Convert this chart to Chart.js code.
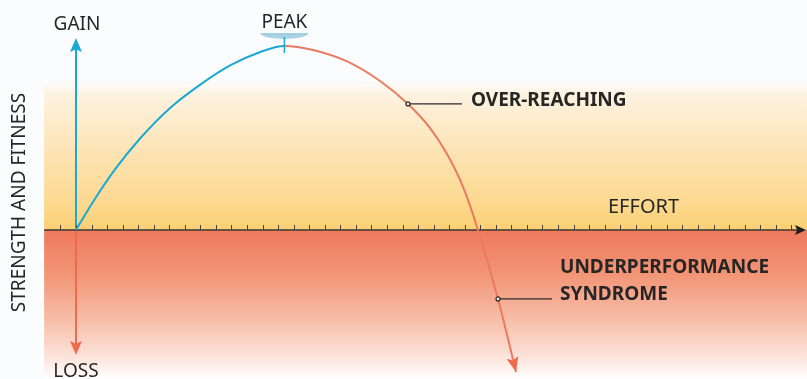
<!DOCTYPE html>
<html>
<head>
<meta charset="utf-8">
<script src="https://cdn.jsdelivr.net/npm/chart.js@4"></script>
<style>
  html, body { margin: 0; padding: 0; background: #fbfcfe; }
  #wrap { width: 807px; height: 379px; position: relative; }
</style>
</head>
<body>
<div id="wrap"><canvas id="chart"></canvas></div>
<script>
// Curve: effort (tick units) and strength/fitness (peak = 100)
const effortValues = [0, 1.09, 2.51, 4.12, 6.05, 8.04, 9.97, 11.77, 13.4,
    15.24, 17.43, 19.55, 21.35, 22.77, 23.86, 24.89, 25.85, 27.14, 28.3];
const fitnessValues = [0, 15.2, 32.9, 49.7, 66.3, 79.3, 89.7, 96.5, 100,
    97.8, 91.6, 81.0, 68.5, 55.4, 41.3, 23.4, 0, -37.5, -77.2];

// axis extents
const effortRange = [-4.887, 47.01];
const fitnessRange = [-81, 125];
const bandStart = -2.05;
const tickRange = [-1, 46];
const gainTop = 104.3;
const lossBottom = -67.9;

// labelled points on the curve
const overReaching = { x: 21.35, y: 68.5 };
const underPerf = { x: 27.14, y: -37.5 };
const peak = { x: 13.4, y: 100 };

const BLUE = '#1aa8d6';
const RED = '#ea7a5f';
const TEXT = '#262626';
const FONT = '"Noto Sans", sans-serif';

const toPoints = (xs, ys) => xs.map((x, i) => ({ x, y: ys[i] }));

function arrowHead(ctx, tipX, tipY, angle, len, half, color) {
    ctx.save();
    ctx.translate(tipX, tipY);
    ctx.rotate(angle);
    ctx.beginPath();
    ctx.moveTo(0, 0);
    ctx.lineTo(-len, -half);
    ctx.lineTo(-len * 0.8, 0);
    ctx.lineTo(-len, half);
    ctx.closePath();
    ctx.fillStyle = color;
    ctx.fill();
    ctx.restore();
}

const decorations = {
    id: 'decorations',
    beforeDatasetsDraw(chart) {
        const { ctx, chartArea, scales: { x, y } } = chart;
        const x0 = x.getPixelForValue(0);
        const y0 = y.getPixelForValue(0);
        const left = x.getPixelForValue(bandStart);

        ctx.save();
        // upper band
        let g = ctx.createLinearGradient(0, chartArea.top, 0, y0);
        g.addColorStop(0, 'rgba(255,255,255,0)');
        g.addColorStop(0.33, 'rgba(255,255,255,0)');
        g.addColorStop(0.4, '#fdf3e2');
        g.addColorStop(0.65, '#fde4b6');
        g.addColorStop(0.9, '#fcd88c');
        g.addColorStop(1, '#fbcf72');
        ctx.fillStyle = g;
        ctx.fillRect(left, chartArea.top, chartArea.right - left, y0 - chartArea.top);

        // lower band
        g = ctx.createLinearGradient(0, y0, 0, chartArea.bottom);
        g.addColorStop(0, '#ef795d');
        g.addColorStop(0.3, '#f29576');
        g.addColorStop(0.65, '#f8c4b0');
        g.addColorStop(0.9, '#fdebe5');
        g.addColorStop(1, '#ffffff');
        ctx.fillStyle = g;
        ctx.fillRect(left, y0, chartArea.right - left, chartArea.bottom - y0);

        // vertical axis: gain (up) and loss (down)
        const yTop = y.getPixelForValue(gainTop);
        const yBot = y.getPixelForValue(lossBottom);
        ctx.lineWidth = 2;
        ctx.strokeStyle = BLUE;
        ctx.beginPath();
        ctx.moveTo(x0, y0);
        ctx.lineTo(x0, yTop + 8);
        ctx.stroke();
        arrowHead(ctx, x0, yTop, -Math.PI / 2, 14, 6, BLUE);

        ctx.strokeStyle = '#ee6c4e';
        ctx.beginPath();
        ctx.moveTo(x0, y0);
        ctx.lineTo(x0, yBot - 8);
        ctx.stroke();
        arrowHead(ctx, x0, yBot, Math.PI / 2, 14, 6, '#ee6c4e');

        // effort axis with ticks
        const tipX = x.getPixelForValue(effortRange[1]) - 1;
        ctx.strokeStyle = '#3a3632';
        ctx.lineWidth = 1.5;
        ctx.beginPath();
        ctx.moveTo(left, y0);
        ctx.lineTo(tipX - 6, y0);
        ctx.stroke();
        arrowHead(ctx, tipX, y0, 0, 11, 5, '#1e1e1e');

        ctx.lineWidth = 1;
        ctx.strokeStyle = '#4a4038';
        x.ticks.forEach(t => {
            if (!Number.isInteger(t.value) || t.value < tickRange[0] || t.value > tickRange[1]) return;
            const px = Math.round(x.getPixelForValue(t.value)) + 0.5;
            ctx.beginPath();
            ctx.moveTo(px, y0);
            ctx.lineTo(px, y0 - 5);
            ctx.stroke();
        });
        ctx.restore();
    },
    afterDatasetsDraw(chart) {
        const { ctx, scales: { x, y } } = chart;
        const x0 = x.getPixelForValue(0);
        const y0 = y.getPixelForValue(0);
        ctx.save();

        // arrow at the end of the falling curve
        const n = effortValues.length;
        const ex = x.getPixelForValue(effortValues[n - 1]);
        const ey = y.getPixelForValue(fitnessValues[n - 1]);
        const px = x.getPixelForValue(effortValues[n - 2]);
        const py = y.getPixelForValue(fitnessValues[n - 2]);
        arrowHead(ctx, ex, ey, Math.atan2(ey - py, ex - px), 15, 6, '#ec6b4a');

        // peak marker
        const pkx = x.getPixelForValue(peak.x);
        const pky = y.getPixelForValue(peak.y);
        const g = ctx.createLinearGradient(0, pky - 14, 0, pky - 7);
        g.addColorStop(0, 'rgba(150,200,220,0.9)');
        g.addColorStop(1, 'rgba(110,180,210,0.5)');
        ctx.fillStyle = g;
        ctx.beginPath();
        ctx.ellipse(pkx, pky - 13, 24, 6, 0, 0, Math.PI);
        ctx.fill();
        ctx.strokeStyle = BLUE;
        ctx.lineWidth = 1.5;
        ctx.beginPath();
        ctx.moveTo(pkx, pky - 9);
        ctx.lineTo(pkx, pky + 7);
        ctx.stroke();

        // texts
        ctx.fillStyle = TEXT;
        ctx.textBaseline = 'alphabetic';
        ctx.font = '19px ' + FONT;
        ctx.textAlign = 'center';
        ctx.fillText('GAIN', x0 + 1, 30);
        ctx.fillText('PEAK', pkx, 28);
        ctx.fillText('LOSS', x0, 377);
        ctx.textAlign = 'left';
        ctx.font = '20px ' + FONT;
        ctx.fillText('EFFORT', 608, y0 - 17);

        ctx.save();
        ctx.translate(25, 202.5);
        ctx.rotate(-Math.PI / 2);
        ctx.textAlign = 'center';
        ctx.font = '19px ' + FONT;
        ctx.fillText('STRENGTH AND FITNESS', 0, 0);
        ctx.restore();

        // leaders
        const leader = (pt, len) => {
            const cx = x.getPixelForValue(pt.x);
            const cy = y.getPixelForValue(pt.y);
            ctx.strokeStyle = '#2a2a2a';
            ctx.lineWidth = 1.2;
            ctx.beginPath();
            ctx.moveTo(cx + 2, cy);
            ctx.lineTo(cx + len, cy);
            ctx.stroke();
            ctx.beginPath();
            ctx.arc(cx, cy, 2, 0, Math.PI * 2);
            ctx.fillStyle = '#f7e9d8';
            ctx.fill();
            ctx.stroke();
            return { cx, cy };
        };
        const o = leader(overReaching, 54);
        const u = leader(underPerf, 54);

        ctx.fillStyle = TEXT;
        ctx.font = 'bold 19px ' + FONT;
        ctx.textAlign = 'left';
        ctx.fillText('OVER-REACHING', o.cx + 63, o.cy + 2.5);
        ctx.fillText('UNDERPERFORMANCE', u.cx + 62, u.cy - 26);
        ctx.fillText('SYNDROME', u.cx + 62, u.cy + 1);
        ctx.restore();
    }
};

new Chart(document.getElementById('chart'), {
    type: 'line',
    data: {
        datasets: [
            {
                label: 'Strength and fitness',
                data: toPoints(effortValues, fitnessValues),
                borderColor: BLUE,
                borderWidth: 2,
                pointRadius: 0,
                cubicInterpolationMode: 'monotone',
                segment: {
                    borderColor: c => (c.p0.parsed.x >= peak.x ? RED : BLUE)
                }
            }
        ]
    },
    options: {
        responsive: true,
        maintainAspectRatio: false,
        animation: false,
        layout: { padding: 0 },
        scales: {
            x: {
                type: 'linear',
                min: effortRange[0],
                max: effortRange[1],
                display: false,
                ticks: { stepSize: 1, autoSkip: false, maxTicksLimit: 100 }
            },
            y: {
                type: 'linear',
                min: fitnessRange[0],
                max: fitnessRange[1],
                display: false
            }
        },
        plugins: {
            legend: { display: false },
            tooltip: { enabled: false }
        }
    },
    plugins: [decorations]
});
</script>
</body>
</html>
